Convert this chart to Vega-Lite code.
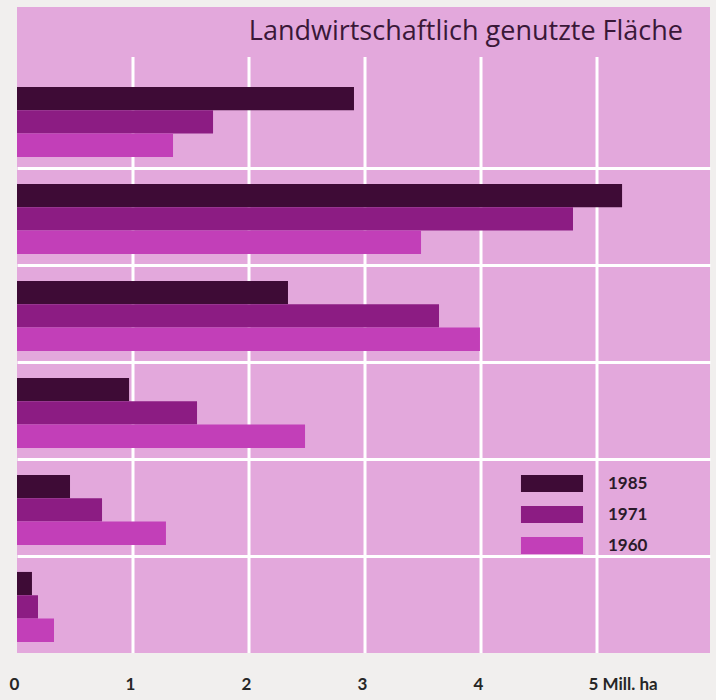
{
  "$schema": "https://vega.github.io/schema/vega-lite/v6.json",
  "width": 693,
  "height": 646,
  "autosize": {"type": "none"},
  "padding": {"left": 17, "top": 7, "right": 6, "bottom": 47},
  "background": "#f1efee",
  "title": {
    "text": "Landwirtschaftlich genutzte Fläche",
    "anchor": "end",
    "orient": "top",
    "baseline": "alphabetic",
    "offset": -60,
    "dx": -27,
    "font": "Open Sans",
    "fontSize": 27,
    "fontWeight": "normal",
    "color": "#3a1838"
  },
  "config": {
    "view": {"fill": "#e3a8dc", "stroke": null},
    "font": "Lato"
  },
  "layer": [
    {
      "data": {"values": [{"wert": 1}, {"wert": 2}, {"wert": 3}, {"wert": 4}, {"wert": 5}]},
      "mark": {"type": "rule", "color": "white", "strokeWidth": 3, "yOffset": -14},
      "encoding": {
        "x": {"field": "wert", "type": "quantitative"},
        "y": {"datum": "A", "type": "nominal", "bandPosition": 0},
        "y2": {"datum": "F", "bandPosition": 1}
      }
    },
    {
      "data": {
        "values": [
          {"gruppe": "A", "jahr": "1985", "wert": 2.905},
          {"gruppe": "A", "jahr": "1971", "wert": 1.69},
          {"gruppe": "A", "jahr": "1960", "wert": 1.345},
          {"gruppe": "B", "jahr": "1985", "wert": 5.216},
          {"gruppe": "B", "jahr": "1971", "wert": 4.793},
          {"gruppe": "B", "jahr": "1960", "wert": 3.483},
          {"gruppe": "C", "jahr": "1985", "wert": 2.336},
          {"gruppe": "C", "jahr": "1971", "wert": 3.638},
          {"gruppe": "C", "jahr": "1960", "wert": 3.991},
          {"gruppe": "D", "jahr": "1985", "wert": 0.966},
          {"gruppe": "D", "jahr": "1971", "wert": 1.552},
          {"gruppe": "D", "jahr": "1960", "wert": 2.483},
          {"gruppe": "E", "jahr": "1985", "wert": 0.457},
          {"gruppe": "E", "jahr": "1971", "wert": 0.733},
          {"gruppe": "E", "jahr": "1960", "wert": 1.284},
          {"gruppe": "F", "jahr": "1985", "wert": 0.129},
          {"gruppe": "F", "jahr": "1971", "wert": 0.181},
          {"gruppe": "F", "jahr": "1960", "wert": 0.319}
        ]
      },
      "mark": {"type": "bar"},
      "encoding": {
        "x": {
          "field": "wert",
          "type": "quantitative",
          "scale": {"domain": [0, 5.974], "nice": false, "zero": true},
          "axis": {
            "title": null,
            "values": [0, 1, 2, 3, 4, 5],
            "format": "d",
            "grid": false,
            "domain": false,
            "ticks": false,
            "labelFlush": false,
            "labelOverlap": false,
            "labelPadding": 23,
            "labelFont": "Lato",
            "labelFontSize": 17,
            "labelFontWeight": "bold",
            "labelColor": "#262626",
            "labelExpr": "datum.value == 5 ? '5  Mill. ha' : datum.label",
            "labelAlign": {"condition": {"test": "datum.value == 5", "value": "left"}, "value": "center"},
            "labelOffset": {"condition": {"test": "datum.value == 5", "value": -9}, "value": -3}
          }
        },
        "y": {
          "field": "gruppe",
          "type": "nominal",
          "scale": {"domain": ["A", "B", "C", "D", "E", "F"], "paddingInner": 0, "paddingOuter": 0.33, "align": 1},
          "axis": {
            "title": null,
            "labels": false,
            "ticks": false,
            "domain": false,
            "grid": true,
            "bandPosition": 0,
            "gridWidth": 3,
            "gridColor": {"condition": {"test": "datum.value === 'A'", "value": "transparent"}, "value": "white"}
          }
        },
        "yOffset": {
          "field": "jahr",
          "type": "nominal",
          "scale": {"domain": ["1985", "1971", "1960"], "paddingInner": 0, "paddingOuter": 0.579, "align": 0.59}
        },
        "color": {
          "field": "jahr",
          "type": "nominal",
          "scale": {"domain": ["1985", "1971", "1960"], "range": ["#3e0b36", "#8c1c83", "#c23fb8"]},
          "legend": {
            "title": null,
            "orient": "none",
            "legendX": 526.5,
            "legendY": 468,
            "padding": 0,
            "symbolType": "M-3.65,-1L3.65,-1L3.65,1L-3.65,1Z",
            "symbolSize": 289,
            "symbolStrokeWidth": 0,
            "symbolOpacity": 1,
            "labelOffset": 47.5,
            "rowPadding": 13,
            "labelFont": "Lato",
            "labelFontSize": 17,
            "labelFontWeight": "bold",
            "labelColor": "#2a1a2a"
          }
        }
      }
    }
  ]
}
